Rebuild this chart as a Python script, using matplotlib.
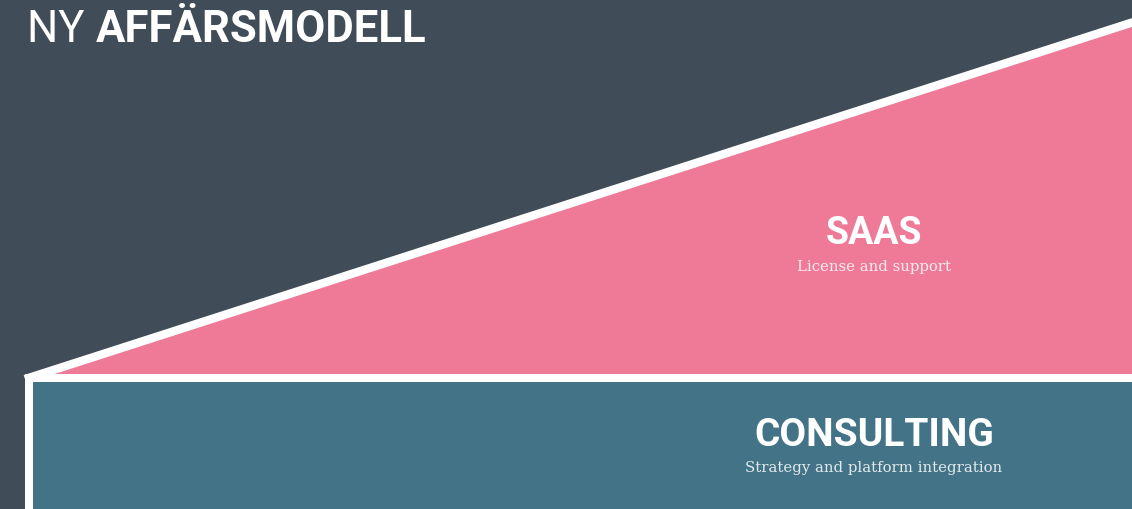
import matplotlib
matplotlib.use("Agg")
import matplotlib.pyplot as plt
from matplotlib.patches import Polygon, Rectangle

# ---- data ----
title_light = "NY "
title_bold = "AFFÄRSMODELL"
categories = ["CONSULTING", "SAAS"]
descriptions = ["Strategy and platform integration", "License and support"]
colors = ["#427386", "#EE7A98"]
bg = "#404D58"

# ---- layout (pixel space) ----
W, H = 1132, 509
fig = plt.figure(figsize=(W / 100, H / 100), dpi=100)
fig.patch.set_facecolor(bg)
ax = fig.add_axes([0, 0, 1, 1])
ax.set_xlim(0, W)
ax.set_ylim(H, 0)
ax.axis("off")

px = 0.72  # points per pixel
left, base, top_right = 28.5, 378, 22.5
edge = 8 * px
slope = (base - top_right) / (W - left)
xr = W + 40

# saas wedge fill
ax.add_patch(Polygon([(left, base), (xr, base - slope * (xr - left)), (xr, base)],
                     closed=True, facecolor=colors[1], edgecolor="none"))
# consulting block
ax.add_patch(Rectangle((left, base), W + 40 - left, H + 40 - base,
                       facecolor=colors[0], edgecolor="white", lw=edge,
                       joinstyle="miter"))
# white diagonal edge
x0 = left - 3.5
ax.plot([x0, xr], [base - slope * (x0 - left), base - slope * (xr - left)],
        color="white", lw=edge * 1.05, solid_capstyle="butt")

# labels
label_pos = [(874, 436, 468), (874, 234, 267)]
sizes = [28, 27]
for cat, desc, (x, yt, yd), s in zip(categories, descriptions, label_pos, sizes):
    ax.text(x, yt, cat, color="white", fontsize=s, fontweight="bold",
            family="Roboto", ha="center", va="center")
    ax.text(x, yd, desc, color="white", alpha=0.85, fontsize=10.7,
            family="DejaVu Serif", ha="center", va="center")

t1 = ax.text(27, 30, title_light, color="white", fontsize=31.5, fontweight="normal",
             family="Roboto", ha="left", va="center")
fig.canvas.draw()
bb = t1.get_window_extent()
ax.text(27 + bb.width, 30, title_bold, color="white", fontsize=31.5,
        fontweight="bold", family="Roboto", ha="left", va="center")

fig.savefig("out.png", dpi=100, facecolor=bg)
